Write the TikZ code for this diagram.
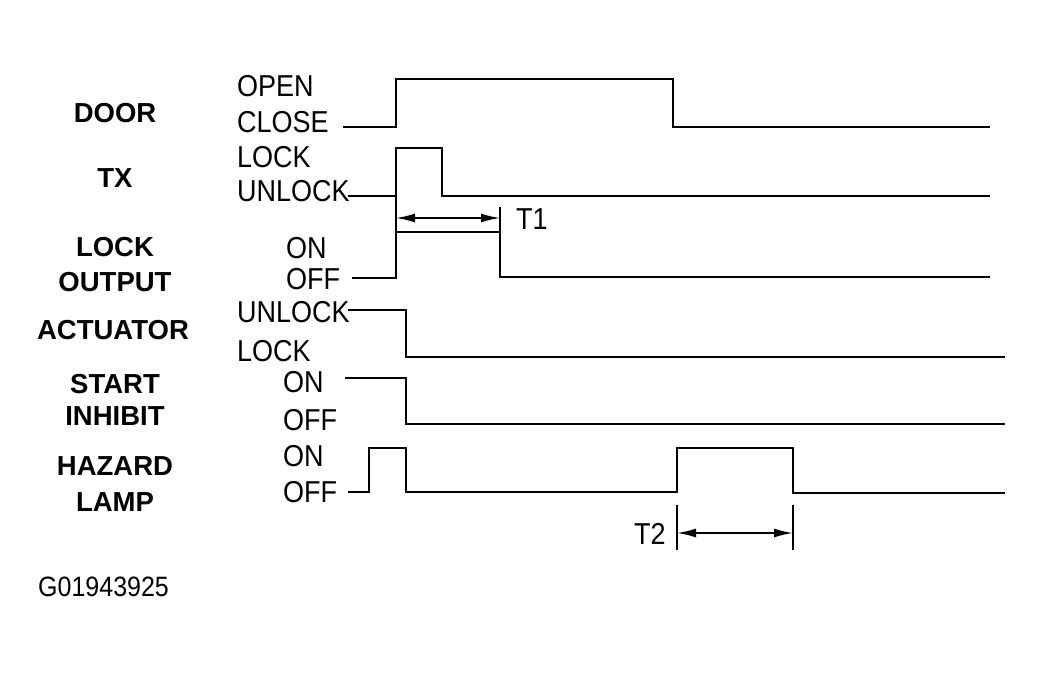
\documentclass[tikz,border=0pt]{standalone}
\usepackage{fontspec}
\usepackage{graphicx}
\setmainfont{Liberation Sans}
\usetikzlibrary{arrows.meta}
\newcommand\tallt[1]{\scalebox{1}[1.12]{#1}}
\begin{document}
\begin{tikzpicture}[x=1pt,y=-1pt,
  sig/.style={line width=2.8pt, line join=miter},
  lvl/.style={font=\fontsize{27}{30}\selectfont, anchor=west, inner sep=0pt},
  sname/.style={font=\fontsize{27.5}{30}\selectfont\bfseries, inner sep=0pt},
  dimarrow/.style={line width=1.8pt, {Latex[length=19pt,width=9pt]}-{Latex[length=19pt,width=9pt]}},
  extline/.style={line width=1.4pt}]
\useasboundingbox (0,0) rectangle (1044,672);
\fill[white] (0,0) rectangle (1044,672);

% signal names
\node[sname] (door) at (115,113) {DOOR};
\node[sname] (tx) at (115,178) {TX};
\node[sname] (lockA) at (115,247) {LOCK};
\node[sname] (lockB) at (115,282) {OUTPUT};
\node[sname] (act) at (113,330) {ACTUATOR};
\node[sname] (startA) at (115,384) {START};
\node[sname] (startB) at (115,416) {INHIBIT};
\node[sname] (hazA) at (115,466) {HAZARD};
\node[sname] (hazB) at (115,502) {LAMP};
\node[lvl, font=\fontsize{25}{28}\selectfont] (code) at (38,587) {\tallt{G01943925}};

% level labels
\node[lvl] (open) at (237,86) {\tallt{OPEN}};
\node[lvl] (close) at (237,122) {\tallt{CLOSE}};
\node[lvl] (txlock) at (237,157) {\tallt{LOCK}};
\node[lvl] (txunlock) at (237,191) {\tallt{UNLOCK}};
\node[lvl] (loon) at (286,248) {\tallt{ON}};
\node[lvl] (looff) at (286,279) {\tallt{OFF}};
\node[lvl] (acunlock) at (237,312) {\tallt{UNLOCK}};
\node[lvl] (aclock) at (237,351) {\tallt{LOCK}};
\node[lvl] (sion) at (283,382) {\tallt{ON}};
\node[lvl] (sioff) at (283,420) {\tallt{OFF}};
\node[lvl] (hzon) at (283,456) {\tallt{ON}};
\node[lvl] (hzoff) at (283,492) {\tallt{OFF}};

% waveforms
\draw[sig] (343,127) -- (396,127) -- (396,79) -- (673,79) -- (673,127) -- (990,127);
\draw[sig] (348,196) -- (396,196) -- (396,148) -- (442,148) -- (442,196) -- (990,196);
\draw[sig] (352,278) -- (396,278) -- (396,232) -- (500,232) -- (500,277) -- (990,277);
\draw[sig] (348,310) -- (406,310) -- (406,357) -- (1005,357);
\draw[sig] (345,378) -- (406,378) -- (406,424) -- (1005,424);
\draw[sig] (348,492) -- (369,492) -- (369,448) -- (406,448) -- (406,492) -- (677,492)
  -- (677,448) -- (793,448) -- (793,493) -- (1005,493);

% T1
\coordinate (t1a) at (396,218);
\coordinate (t1b) at (500,218);
\draw[extline] (396,196) -- (396,232);
\draw[extline] (500,207) -- (500,232);
\draw[dimarrow] (t1a) -- (t1b);
\node[lvl] (t1) at (516,219) {\tallt{T1}};

% T2
\coordinate (t2a) at (677,533);
\coordinate (t2b) at (793,533);
\draw[extline] (677,505) -- (677,550);
\draw[extline] (793,505) -- (793,550);
\draw[dimarrow] (t2a) -- (t2b);
\node[lvl] (t2) at (634,534) {\tallt{T2}};
\end{tikzpicture}
\end{document}
